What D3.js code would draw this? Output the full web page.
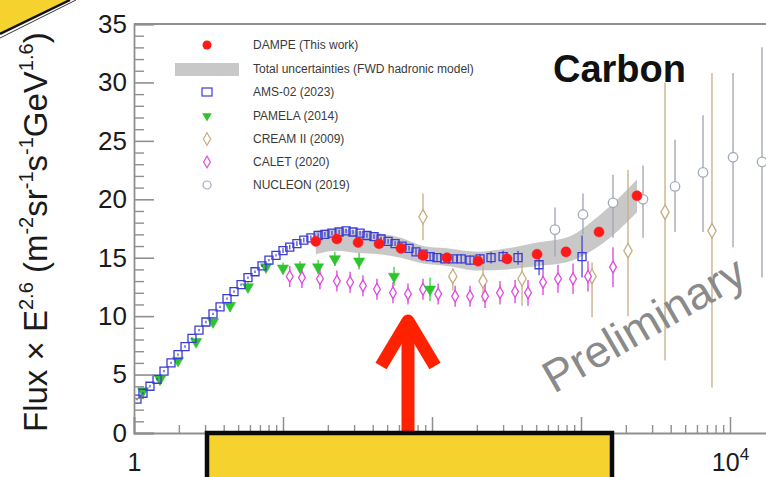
<!DOCTYPE html>
<html><head><meta charset="utf-8">
<script src="https://cdn.jsdelivr.net/npm/d3@7"></script>
<style>html,body{margin:0;padding:0;background:#fff;overflow:hidden}svg{display:block;font-family:"Liberation Sans",Arial,Helvetica,sans-serif}</style>
</head><body>
<svg id="c" width="766" height="477"></svg>
<script>
// ---------- data ----------
const yTickValues = [0,5,10,15,20,25,30,35];
const xMajorValues = [1,10,100,1000,10000];
const xMajorLabels = [["1",""],["",""],["",""],["",""],["10","4"]]; // 10, 10^2, 10^3 hidden under the overlay box

const dampeE = [16.6,23.0,31.9,44.1,61.9,87.0,126,204,319,507,793,1321,2376];
const dampeF = [16.4,16.6,16.3,16.2,15.8,15.2,15.0,14.7,14.9,15.3,15.5,17.2,20.3];
const bandLow  = [15.3,15.6,15.4,15.3,15.0,14.5,14.3,13.9,14.0,14.3,14.6,16.0,18.9];
const bandHigh = [17.3,17.5,17.3,17.1,16.7,16.0,15.8,15.5,15.8,16.3,16.7,18.6,21.7];

const amsE = [1.047,1.149,1.28,1.427,1.59,1.772,1.974,2.2,2.45,2.73,3.04,3.39,3.78,4.21,4.69,5.23,5.82,6.49,7.23,8.05,8.97,10.0,11.1,12.4,13.8,15.4,17.2,19.1,21.3,23.8,26.5,29.5,32.9,36.6,40.8,45.5,50.7,56.5,62.9,70.1,78.1,87.0,97.0,108,122,138,157,180,210,249,300,378,523,1016];
const amsF = [2.9,3.4,4.0,4.6,5.3,6.0,6.7,7.4,8.1,8.8,9.5,10.2,10.8,11.5,12.1,12.7,13.3,13.8,14.3,14.8,15.2,15.6,15.9,16.2,16.5,16.7,16.9,17.0,17.1,17.2,17.3,17.2,17.1,16.9,16.8,16.6,16.4,16.2,16.0,15.8,15.5,15.3,15.1,15.0,14.9,14.9,14.9,14.8,14.9,15.0,15.1,15.0,14.4,15.1];
const amsErr = [0.1,0.1,0.1,0.1,0.1,0.1,0.1,0.1,0.1,0.1,0.1,0.1,0.1,0.1,0.1,0.1,0.1,0.1,0.1,0.1,0.1,0.2,0.2,0.2,0.2,0.2,0.2,0.2,0.2,0.2,0.2,0.2,0.2,0.2,0.2,0.2,0.2,0.2,0.2,0.2,0.3,0.3,0.3,0.3,0.3,0.3,0.4,0.4,0.4,0.5,0.5,0.6,0.9,1.8];

const pamE = [1.149,1.495,1.974,2.61,3.39,4.41,5.82,7.69,10.0,13.0,17.2,22.3,32.4,55.6,97.0];
const pamF = [3.6,4.6,6.2,7.8,9.5,10.9,12.5,14.2,14.1,14.2,14.2,14.9,14.7,13.4,12.3];
const pamErr = [0.2,0.2,0.2,0.3,0.3,0.3,0.4,0.4,0.5,0.5,0.6,0.6,0.7,0.8,1.0];

const calE = [11.1,13.4,17.7,23.0,28.2,34.4,42.7,54.7,69.0,87.0,110,143,180,227,286,361,441,556,701,884,1114,1640];
const calF = [13.4,13.3,13.2,13.0,12.9,12.6,12.3,12.0,11.9,12.3,11.9,11.7,11.7,11.7,12.0,12.1,12.0,12.9,13.2,13.2,13.4,14.2];
const calErr = [0.9,0.9,0.9,0.9,0.9,0.9,0.9,0.9,0.9,0.9,0.9,0.9,0.9,1.0,1.0,1.0,1.1,1.1,1.2,1.3,1.3,1.7];

const creE = [87,138,220,402,1186,2067,3664,7570];
const creF = [18.5,13.4,13.0,13.2,13.4,15.6,18.9,17.3];
const creLo = [16.5,12.2,11.2,10.9,9.9,10.0,6.2,3.9];
const creHi = [20.5,14.1,14.8,15.5,14.6,22.5,30.0,30.8];

const nucE = [669,1031,1640,2608,4276,6590,10480,16400];
const nucF = [17.4,18.7,19.7,20.0,21.1,22.3,23.6,23.2];
const nucLo = [15.1,17.0,16.7,16.7,17.2,17.2,15.9,13.3];
const nucHi = [19.3,20.5,22.1,22.9,25.1,27.2,30.8,33.0];

const legendLabels = ["DAMPE (This work)","Total uncertainties (FWD hadronic model)","AMS-02 (2023)","PAMELA (2014)","CREAM II (2009)","CALET (2020)","NUCLEON (2019)"];

// ---------- chart ----------
const svg = d3.select("#c");
const X0 = 134, PX = 149, Y0 = 433, YT = 24;
const x = d3.scaleLog().domain([1, Math.pow(10,4.3)]).range([X0, X0 + 4.3*PX]);
const y = d3.scaleLinear().domain([0,35]).range([Y0, YT]);

const C = {dampe:"#ff1a1a", band:"#c8c8c8", ams:"#3b3bd6", pam:"#2ec42e", cal:"#e04be0", cre:"#c9ab80", nuc:"#a3a9ba"};

svg.append("defs").append("clipPath").attr("id","pc")
  .append("rect").attr("x",X0).attr("y",YT).attr("width",766-X0).attr("height",Y0-YT);

const plot = svg.append("g").attr("clip-path","url(#pc)");

const bandData = dampeE.map((e,i)=>({e, lo:bandLow[i], hi:bandHigh[i]}));
plot.append("path").datum(bandData)
  .attr("d", d3.area().x(d=>x(d.e)).y0(d=>y(d.lo)).y1(d=>y(d.hi)).curve(d3.curveMonotoneX))
  .attr("fill", C.band);

function errBars(g, E, lo, hi, color, w){
  g.selectAll(null).data(E).enter().append("line")
   .attr("x1",d=>x(d)).attr("x2",d=>x(d))
   .attr("y1",(d,i)=>y(lo[i])).attr("y2",(d,i)=>y(hi[i]))
   .attr("stroke",color).attr("stroke-width",w||1.2);
}
function markers(g, E, F, type, size, fill, stroke, sw, rot){
  g.selectAll(null).data(E).enter().append("path")
   .attr("d", d3.symbol().type(type).size(size))
   .attr("transform",(d,i)=>`translate(${x(d)},${y(F[i])})` + (rot?` rotate(${rot})`:""))
   .attr("fill",fill).attr("stroke",stroke).attr("stroke-width",sw);
}

errBars(plot, nucE, nucLo, nucHi, C.nuc, 1.4);
markers(plot, nucE, nucF, d3.symbolCircle, 70, "#fff", C.nuc, 1.3);
errBars(plot, creE, creLo, creHi, C.cre, 1.3);
markers(plot, creE, creF, d3.symbolDiamond, 60, "#fff", C.cre, 1.3);
errBars(plot, calE, calF.map((v,i)=>v-calErr[i]), calF.map((v,i)=>v+calErr[i]), C.cal, 1.4);
markers(plot, calE, calF, d3.symbolDiamond, 40, "#fff", C.cal, 1.3);
errBars(plot, pamE, pamF.map((v,i)=>v-pamErr[i]), pamF.map((v,i)=>v+pamErr[i]), C.pam, 1.2);
markers(plot, pamE, pamF, d3.symbolTriangle, 55, C.pam, C.pam, 0.5, 180);
errBars(plot, amsE, amsF.map((v,i)=>v-amsErr[i]), amsF.map((v,i)=>v+amsErr[i]), C.ams, 1.2);
markers(plot, amsE, amsF, d3.symbolSquare, 64, "none", C.ams, 1.3);
markers(plot, dampeE, dampeF, d3.symbolCircle, 80, C.dampe, C.dampe, 0.5);

// ---------- axes ----------
const axCol = "#8f8f8f";
svg.append("line").attr("x1",X0).attr("x2",766).attr("y1",YT).attr("y2",YT).attr("stroke",axCol).attr("stroke-width",1.8);

const yAx = svg.append("g").attr("transform",`translate(${X0},0)`)
  .call(d3.axisLeft(y).tickValues(yTickValues).tickSize(-20).tickPadding(7).tickFormat(d3.format("d")));
yAx.select(".domain").attr("stroke",axCol).attr("stroke-width",1.8);
yAx.selectAll(".tick line").attr("stroke",axCol).attr("stroke-width",1.6);
yAx.selectAll(".tick text").attr("font-size",26).attr("fill","#1a1a1a").attr("font-family","Liberation Sans, Arial, sans-serif");
const yMinor = d3.range(0,36,1).filter(v=>v%5!==0);
const yAm = svg.append("g").attr("transform",`translate(${X0},0)`)
  .call(d3.axisLeft(y).tickValues(yMinor).tickSize(-10).tickFormat(""));
yAm.select(".domain").remove();
yAm.selectAll(".tick line").attr("stroke",axCol).attr("stroke-width",1.4);

const xAx = svg.append("g").attr("transform",`translate(0,${Y0})`)
  .call(d3.axisBottom(x).tickValues(xMajorValues).tickSize(-16).tickPadding(22).tickFormat(""));
xAx.select(".domain").attr("stroke",axCol).attr("stroke-width",1.8);
xAx.selectAll(".tick line").attr("stroke",axCol).attr("stroke-width",1.5);
xAx.selectAll(".tick").each(function(d,i){
  if (!xMajorLabels[i][0]) return;
  const t = d3.select(this).append("text").attr("y",38).attr("fill","#1a1a1a")
    .attr("font-size",25).attr("text-anchor","middle").attr("font-family","Liberation Sans, Arial, sans-serif");
  t.append("tspan").text(xMajorLabels[i][0]);
  if (xMajorLabels[i][1]) t.append("tspan").attr("font-size",17).attr("dy",-11).text(xMajorLabels[i][1]);
});
const xMinor = [];
[1,10,100,1000,10000].forEach(dec=>{ for(let k=2;k<=9;k++){ const v=dec*k; if (x(v)<766) xMinor.push(v);} });
const xAm = svg.append("g").attr("transform",`translate(0,${Y0})`)
  .call(d3.axisBottom(x).tickValues(xMinor).tickSize(-8).tickFormat(""));
xAm.select(".domain").remove();
xAm.selectAll(".tick line").attr("stroke",axCol).attr("stroke-width",1.4);

const yt = svg.append("text").attr("transform","translate(47,432) rotate(-90)")
  .attr("font-size",33).attr("fill","#1a1a1a").attr("text-anchor","start");
const parts = [["Flux × E",0],["2.6",1],[" (m",0],["-2",1],["sr",0],["-1",1],["s",0],["-1",1],["GeV",0],["1.6",1],[")",0]];
let prevSup = 0;
parts.forEach(([s,sup])=>{
  const ts = yt.append("tspan").text(s);
  if (sup) { ts.attr("font-size",20); if(!prevSup) ts.attr("dy",-14); }
  else if (prevSup) ts.attr("dy",14);
  prevSup = sup;
});

svg.append("text").attr("x",553).attr("y",82).attr("font-size",38).attr("font-weight","bold").attr("fill","#111").text("Carbon");

svg.append("text").attr("transform","translate(554,394) rotate(-30)")
  .attr("font-size",45).attr("fill","#8a8a8a").text("Preliminary");

// ---------- legend ----------
const lg = svg.append("g").attr("font-size",12).attr("fill","#3a3a3a");
const rowsY = [45,69,92,116,139,162,185];
const mx = 207;
legendLabels.forEach((t,i)=>{
  lg.append("text").attr("x",253).attr("y",rowsY[i]+4).text(t);
});
lg.append("circle").attr("cx",mx).attr("cy",rowsY[0]).attr("r",4.5).attr("fill",C.dampe);
lg.append("rect").attr("x",175).attr("y",rowsY[1]-6).attr("width",64).attr("height",13).attr("fill",C.band);
lg.append("rect").attr("x",mx-5).attr("y",rowsY[2]-4).attr("width",10).attr("height",8).attr("fill","none").attr("stroke",C.ams).attr("stroke-width",1.2);
lg.append("path").attr("d",d3.symbol().type(d3.symbolTriangle).size(40)).attr("transform",`translate(${mx},${rowsY[3]}) rotate(180)`).attr("fill",C.pam);
lg.append("path").attr("d",d3.symbol().type(d3.symbolDiamond).size(45)).attr("transform",`translate(${mx},${rowsY[4]})`).attr("fill","none").attr("stroke",C.cre).attr("stroke-width",1.2);
lg.append("path").attr("d",d3.symbol().type(d3.symbolDiamond).size(40)).attr("transform",`translate(${mx},${rowsY[5]})`).attr("fill","none").attr("stroke",C.cal).attr("stroke-width",1.2);
lg.append("circle").attr("cx",mx).attr("cy",rowsY[6]).attr("r",4).attr("fill","none").attr("stroke",C.nuc).attr("stroke-width",1.2);

// ---------- overlays ----------
svg.append("path").attr("d","M0,0 L68,0 L0,33 Z").attr("fill","#f5d22e");
svg.append("line").attr("x1",0).attr("y1",34).attr("x2",70).attr("y2",0).attr("stroke","#111").attr("stroke-width",2.5);
svg.append("line").attr("x1",0).attr("y1",38).attr("x2",76).attr("y2",0).attr("stroke","#333").attr("stroke-width",1);

const arrow = svg.append("g").attr("stroke","#ff2200").attr("stroke-width",13).attr("fill","none");
arrow.append("line").attr("x1",408).attr("y1",324).attr("x2",408).attr("y2",433);
arrow.append("path").attr("d","M381,366 L408,321 L435,366").attr("stroke-linejoin","round");

svg.append("rect").attr("x",207).attr("y",433).attr("width",405).attr("height",60)
  .attr("fill","#f5d22e").attr("stroke","#0a0a0a").attr("stroke-width",4.5);
</script>
</body></html>
